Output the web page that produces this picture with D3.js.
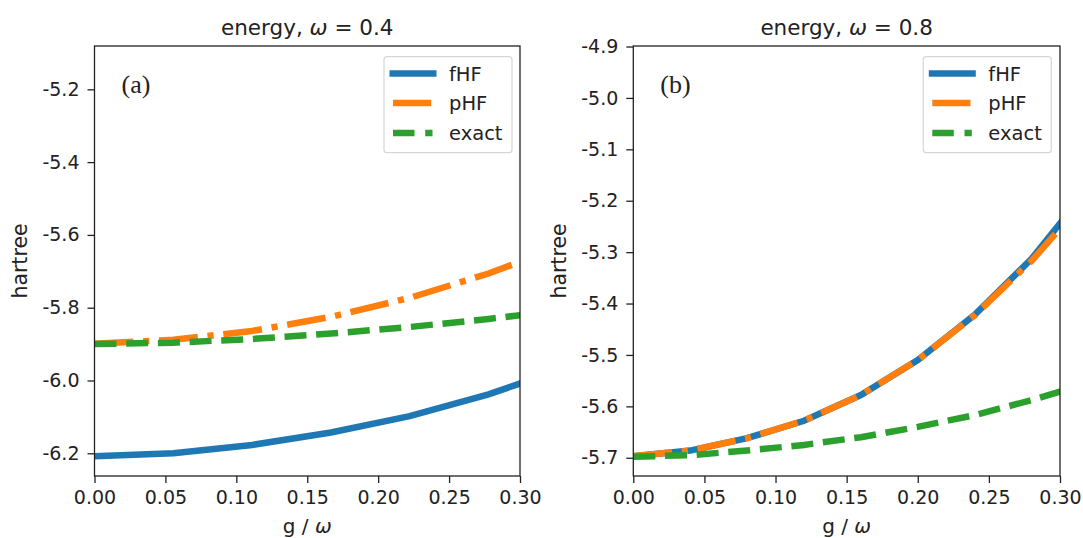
<!DOCTYPE html>
<html>
<head>
<meta charset="utf-8">
<script src="https://cdn.jsdelivr.net/npm/d3@7"></script>
<style>
  body { margin: 0; background: #fff; }
  svg { font-family: "DejaVu Sans", sans-serif; }
</style>
</head>
<body>
<svg id="chart" width="1083" height="538"></svg>
<script>
// panel (a), omega = 0.4
var gA = [0, 0.0556, 0.1111, 0.1667, 0.2222, 0.2778, 0.3333];
var fhfA = [-6.208, -6.200, -6.177, -6.143, -6.098, -6.038, -5.964];
var phfA = [-5.899, -5.888, -5.864, -5.825, -5.773, -5.706, -5.626];
var exactA = [-5.900, -5.896, -5.886, -5.871, -5.853, -5.831, -5.805];
var yTicksA = [-6.2, -6.0, -5.8, -5.6, -5.4, -5.2];

// panel (b), omega = 0.8
var gB = [0, 0.04, 0.08, 0.12, 0.16, 0.20, 0.24, 0.28, 0.32];
var fhfB = [-5.697, -5.686, -5.662, -5.628, -5.578, -5.510, -5.422, -5.313, -5.175];
var phfB = [-5.697, -5.686, -5.662, -5.628, -5.578, -5.510, -5.423, -5.317, -5.192];
var exactB = [-5.698, -5.695, -5.686, -5.675, -5.660, -5.640, -5.617, -5.588, -5.555];
var yTicksB = [-5.7, -5.6, -5.5, -5.4, -5.3, -5.2, -5.1, -5.0, -4.9];

var xTicks = [0, 0.05, 0.10, 0.15, 0.20, 0.25, 0.30];
var seriesNames = ["fHF", "pHF", "exact"];

var colors = {fHF: "#1f77b4", pHF: "#ff7f0e", exact: "#2ca02c"};
var dashes = {fHF: null, pHF: "39,9.7,6.2,9.7", exact: "22,9.7"};
var legendDash = {fHF: null, pHF: "0,3.5,38.2,100", exact: "0,3.5,21.5,10.7,7.3,100"};

var svg = d3.select("#chart");

function drawPanel(opt) {
  var left = opt.left, right = opt.right, top = 46, bottom = 476;

  var x = d3.scaleLinear().domain([0, 0.3]).range([left, right]);
  var y = d3.scaleLinear().domain(opt.ylim).range([bottom, top]);

  var g = svg.append("g");

  g.append("clipPath").attr("id", "clip" + opt.id)
    .append("rect")
    .attr("x", left).attr("y", top)
    .attr("width", right - left).attr("height", bottom - top);

  var line = d3.line()
    .x(function(d) { return x(d[0]); })
    .y(function(d) { return y(d[1]); });

  var lines = g.append("g").attr("clip-path", "url(#clip" + opt.id + ")");
  opt.series.forEach(function(s, i) {
    var name = seriesNames[i];
    lines.append("path")
      .datum(d3.zip(opt.gx, s))
      .attr("d", line)
      .attr("fill", "none")
      .attr("stroke", colors[name])
      .attr("stroke-width", 6.5)
      .attr("stroke-dasharray", dashes[name]);
  });

  // axes
  var xAxis = d3.axisBottom(x).tickValues(xTicks)
    .tickFormat(d3.format(".2f")).tickSize(7).tickPadding(8);
  var yAxis = d3.axisLeft(y).tickValues(opt.yTicks)
    .tickFormat(function(d) { return d3.format(".1f")(d).replace("\u2212", "-"); })
    .tickSize(7).tickPadding(8);

  var gx = g.append("g").attr("transform", "translate(0," + bottom + ")").call(xAxis);
  var gy = g.append("g").attr("transform", "translate(" + left + ",0)").call(yAxis);
  [gx, gy].forEach(function(a) {
    a.select(".domain").remove();
    a.selectAll(".tick line").attr("stroke", "#222").attr("stroke-width", 1.3);
    a.selectAll(".tick text").attr("fill", "#222")
      .style("font-size", "19px").style("font-family", "DejaVu Sans");
  });

  g.append("rect")
    .attr("x", left).attr("y", top)
    .attr("width", right - left).attr("height", bottom - top)
    .attr("fill", "none").attr("stroke", "#222").attr("stroke-width", 1.3);

  // title
  var t = g.append("text")
    .attr("x", (left + right) / 2).attr("y", 35)
    .attr("text-anchor", "middle")
    .style("font-size", "21.5px").attr("fill", "#222");
  t.append("tspan").text("energy, ");
  t.append("tspan").style("font-style", "italic").text("\u03c9");
  t.append("tspan").text(" = " + opt.omega);

  // axis labels
  var xl = g.append("text")
    .attr("x", (left + right) / 2).attr("y", 533)
    .attr("text-anchor", "middle")
    .style("font-size", "20px").attr("fill", "#222");
  xl.append("tspan").text("g / ");
  xl.append("tspan").style("font-style", "italic").text("\u03c9");

  g.append("text")
    .attr("transform", "translate(" + opt.ylabelX + "," + ((top + bottom) / 2) + ") rotate(-90)")
    .attr("text-anchor", "middle")
    .style("font-size", "20.5px").attr("fill", "#222")
    .text("hartree");

  // panel letter
  g.append("text")
    .attr("x", left + 27).attr("y", 93)
    .style("font-family", "'Liberation Serif', serif")
    .style("font-size", "26px").attr("fill", "#222")
    .text(opt.letter);

  // legend
  var lx = opt.legendX, ly = 56.7;
  g.append("rect")
    .attr("x", lx).attr("y", ly)
    .attr("width", 128).attr("height", 96)
    .attr("rx", 3)
    .attr("fill", "#fff").attr("fill-opacity", 0.8)
    .attr("stroke", "#d6d6d6").attr("stroke-width", 1.2);

  var rowY = [73.5, 103, 133];
  seriesNames.forEach(function(name, i) {
    g.append("line")
      .attr("x1", lx + 5.5).attr("x2", lx + 52.5)
      .attr("y1", rowY[i]).attr("y2", rowY[i])
      .attr("stroke", colors[name]).attr("stroke-width", 6.5)
      .attr("stroke-dasharray", legendDash[name]);
    g.append("text")
      .attr("x", lx + 65).attr("y", rowY[i] + 7)
      .style("font-size", "19.5px").attr("fill", "#222")
      .text(name);
  });
}

drawPanel({
  id: "a", left: 94.5, right: 520, ylim: [-6.2624, -5.081],
  gx: gA, series: [fhfA, phfA, exactA], yTicks: yTicksA,
  omega: "0.4", letter: "(a)", legendX: 384, ylabelX: 27
});

drawPanel({
  id: "b", left: 633.3, right: 1060, ylim: [-5.7355, -4.899],
  gx: gB, series: [fhfB, phfB, exactB], yTicks: yTicksB,
  omega: "0.8", letter: "(b)", legendX: 923.3, ylabelX: 566
});
</script>
</body>
</html>
